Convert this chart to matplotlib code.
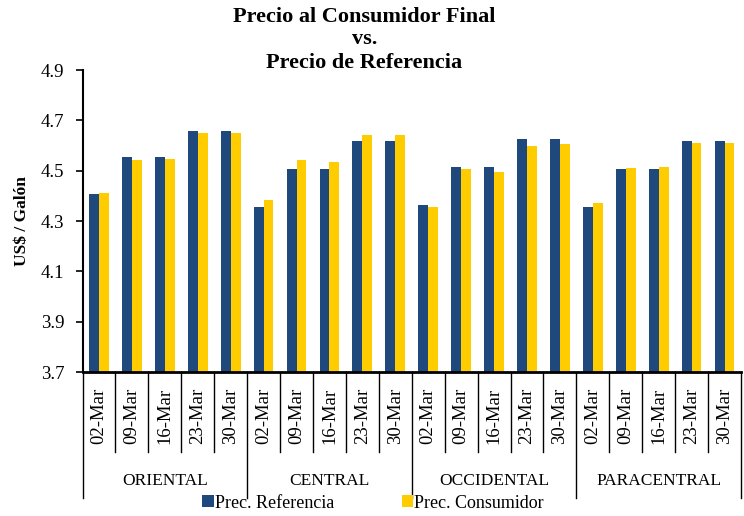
import matplotlib
matplotlib.use('Agg')
import matplotlib.pyplot as plt
import matplotlib.transforms as mtransforms
import numpy as np

plt.rcParams['font.family'] = ['Liberation Serif', 'DejaVu Serif']

regions = ['ORIENTAL', 'CENTRAL', 'OCCIDENTAL', 'PARACENTRAL']
dates = ['02-Mar', '09-Mar', '16-Mar', '23-Mar', '30-Mar']

prec_referencia = [4.408, 4.556, 4.556, 4.656, 4.656,
                   4.356, 4.508, 4.508, 4.616, 4.616,
                   4.364, 4.516, 4.516, 4.624, 4.624,
                   4.356, 4.508, 4.508, 4.616, 4.616]
prec_consumidor = [4.412, 4.544, 4.548, 4.648, 4.648,
                   4.384, 4.544, 4.536, 4.640, 4.640,
                   4.356, 4.508, 4.496, 4.600, 4.604,
                   4.372, 4.512, 4.516, 4.608, 4.608]

blue = '#1F497D'
yellow = '#FFCC00'

W, H = 744, 516
fig = plt.figure(figsize=(W / 100, H / 100), dpi=100)
ax = fig.add_axes([82.5 / W, 1 - 372 / H, (741 - 82.5) / W, (372 - 70) / H])

n = len(prec_referencia)
x = np.arange(n)
bw = 0.3
ax.bar(x - bw / 2, prec_referencia, bw, color=blue, label='Prec. Referencia')
ax.bar(x + bw / 2, prec_consumidor, bw, color=yellow, label='Prec. Consumidor')

ax.set_xlim(-0.5, n - 0.5)
ax.set_ylim(3.7, 4.9)
ax.set_yticks(np.arange(3.7, 4.91, 0.2))
ax.set_yticklabels(['%.1f' % v for v in np.arange(3.7, 4.91, 0.2)], fontsize=13.5)
ax.tick_params(axis='y', length=5, width=1.2, pad=8)
ax.set_xticks([])
for s in ['top', 'right']:
    ax.spines[s].set_visible(False)
ax.spines['left'].set_linewidth(1.5)
ax.spines['bottom'].set_linewidth(2)

ax.set_ylabel('US$ / Galón', fontsize=12.5, fontweight='bold', labelpad=8)

# multi-level category axis
tr = mtransforms.blended_transform_factory(ax.transData, fig.transFigure)
def fy(px):
    return 1 - px / H

for i in range(n):
    ax.text(i, fy(416), dates[i % 5], transform=tr, rotation=90,
            ha='center', va='center', fontsize=13.5)
for k in range(n + 1):
    xs = k - 0.5
    bottom = 498 if k % 5 == 0 else 452
    ax.plot([xs, xs], [fy(372), fy(bottom)], transform=tr, color='black',
            lw=1, clip_on=False)
for r, name in enumerate(regions):
    ax.text(r * 5 + 2, fy(481), name, transform=tr,
            ha='center', va='center', fontsize=12.5)

fig.text(0.5 * (232 + 497) / W, fy(39.5), 'Precio al Consumidor Final\nvs.\nPrecio de Referencia',
         ha='center', va='center', fontsize=16, fontweight='bold', linespacing=1.2)

fig.legend(loc='center', bbox_to_anchor=(373 / W, fy(503)), ncol=2, frameon=False,
           fontsize=13, handlelength=0.65, handleheight=0.65, handletextpad=0.05,
           columnspacing=3.75, borderpad=0)

fig.savefig('out.png', dpi=100)
